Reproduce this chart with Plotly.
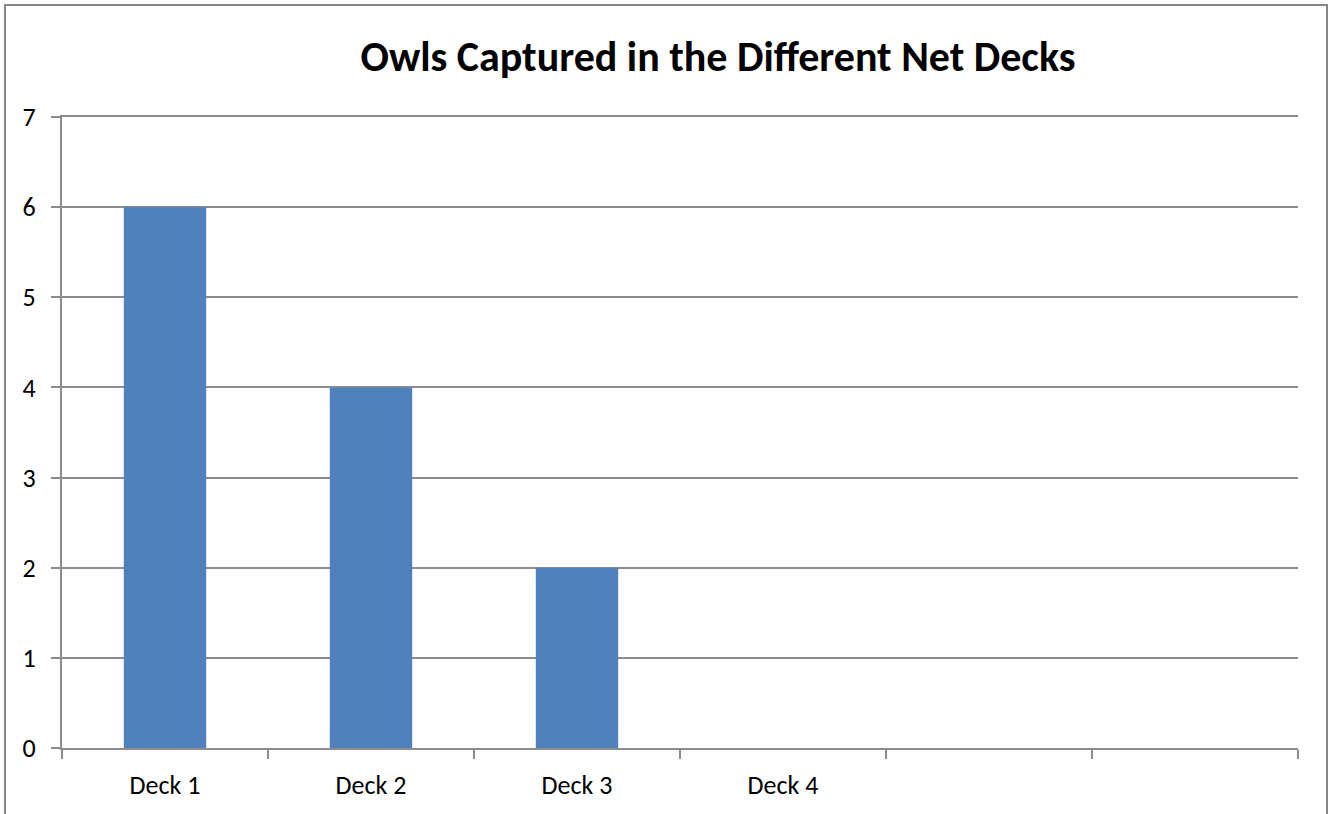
import plotly.graph_objects as go

categories = ["Deck 1", "Deck 2", "Deck 3", "Deck 4", " ", "  "]
owls = [6, 4, 2, 0, None, None]
y_ticks = [0, 1, 2, 3, 4, 5, 6, 7]

FONT = "Calibri, Carlito, Lato, sans-serif"
GRID = "#8c8c8c"

fig = go.Figure(
    go.Bar(
        x=categories,
        y=owls,
        marker=dict(color="#4F81BD", line=dict(width=0)),
        width=0.4,
    )
)

fig.update_layout(
    width=1328,
    height=814,
    margin=dict(l=62, r=30, t=117, b=66),
    paper_bgcolor="white",
    plot_bgcolor="white",
    showlegend=False,
    font=dict(family=FONT, color="black", size=26),
    title=dict(
        text="<b>Owls Captured in the Different Net Decks</b>",
        x=718 / 1328,
        xanchor="center",
        y=1 - 56 / 814,
        yanchor="middle",
        font=dict(family=FONT, size=42, color="black"),
    ),
    bargap=0.6,
)

fig.update_xaxes(
    type="category",
    categoryorder="array",
    categoryarray=categories,
    tickson="boundaries",
    ticks="outside",
    ticklen=9,
    tickwidth=2,
    tickcolor=GRID,
    showline=True,
    mirror=True,
    linecolor=GRID,
    linewidth=2,
    showgrid=False,
    ticklabelstandoff=13,
    tickfont=dict(family=FONT, size=26),
    range=[-0.5, 5.5],
    fixedrange=True,
)

fig.update_yaxes(
    range=[0, 7],
    tickvals=y_ticks,
    ticks="outside",
    ticklen=9,
    tickwidth=2,
    tickcolor=GRID,
    showline=True,
    linecolor=GRID,
    linewidth=2,
    showgrid=True,
    gridcolor=GRID,
    gridwidth=2,
    zeroline=False,
    ticklabelstandoff=10,
    tickfont=dict(family=FONT, size=26),
    fixedrange=True,
)

# outer chart-area border (extends below the visible page, as in the reference)
fig.add_shape(
    type="rect",
    xref="paper", yref="paper",
    x0=(5 - 62) / 1236, x1=(1327 - 62) / 1236,
    y0=-0.3, y1=(748 - 5) / 631,
    line=dict(color="#868686", width=2),
    fillcolor="rgba(0,0,0,0)",
    layer="below",
)

fig.write_html("out.html", config={"displayModeBar": False})
